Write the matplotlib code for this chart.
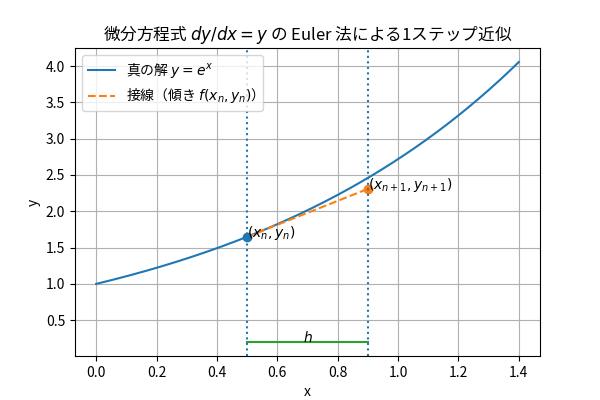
import numpy as np
import matplotlib
matplotlib.use('Agg')
import matplotlib.pyplot as plt

plt.rcParams['font.family'] = ['Noto Sans CJK JP', 'DejaVu Sans']
plt.rcParams['axes.unicode_minus'] = False

# data
x_start, x_end = 0.0, 1.4
xn = 0.5
h = 0.4
h_bar_y = 0.2

x = np.linspace(x_start, x_end, 200)
y = np.exp(x)
yn = np.exp(xn)
xn1 = xn + h
yn1 = yn + h * yn

fig, ax = plt.subplots(figsize=(6, 4), dpi=100)
ax.plot(x, y, label=r'真の解 $y=e^x$')
ax.plot([xn, xn1], [yn, yn1], '--', label=r'接線（傾き $f(x_n,y_n)$）')
ax.plot(xn, yn, 'o', color='C0')
ax.plot(xn1, yn1, 'o', color='C1')
ax.axvline(xn, linestyle=':', color='C0')
ax.axvline(xn1, linestyle=':', color='C0')
ax.text(xn, yn, r'$(x_n,y_n)$')
ax.text(xn1, yn1, r'$(x_{n+1},y_{n+1})$')
ax.plot([xn, xn1], [h_bar_y, h_bar_y], color='C2')
ax.text((xn + xn1) / 2, h_bar_y, r'$h$', ha='center')

ax.set_title(r'微分方程式 $dy/dx=y$ の Euler 法による1ステップ近似')
ax.set_xlabel('x')
ax.set_ylabel('y')
ax.grid(True)
ax.legend(loc='upper left')

fig.savefig('out.png')
